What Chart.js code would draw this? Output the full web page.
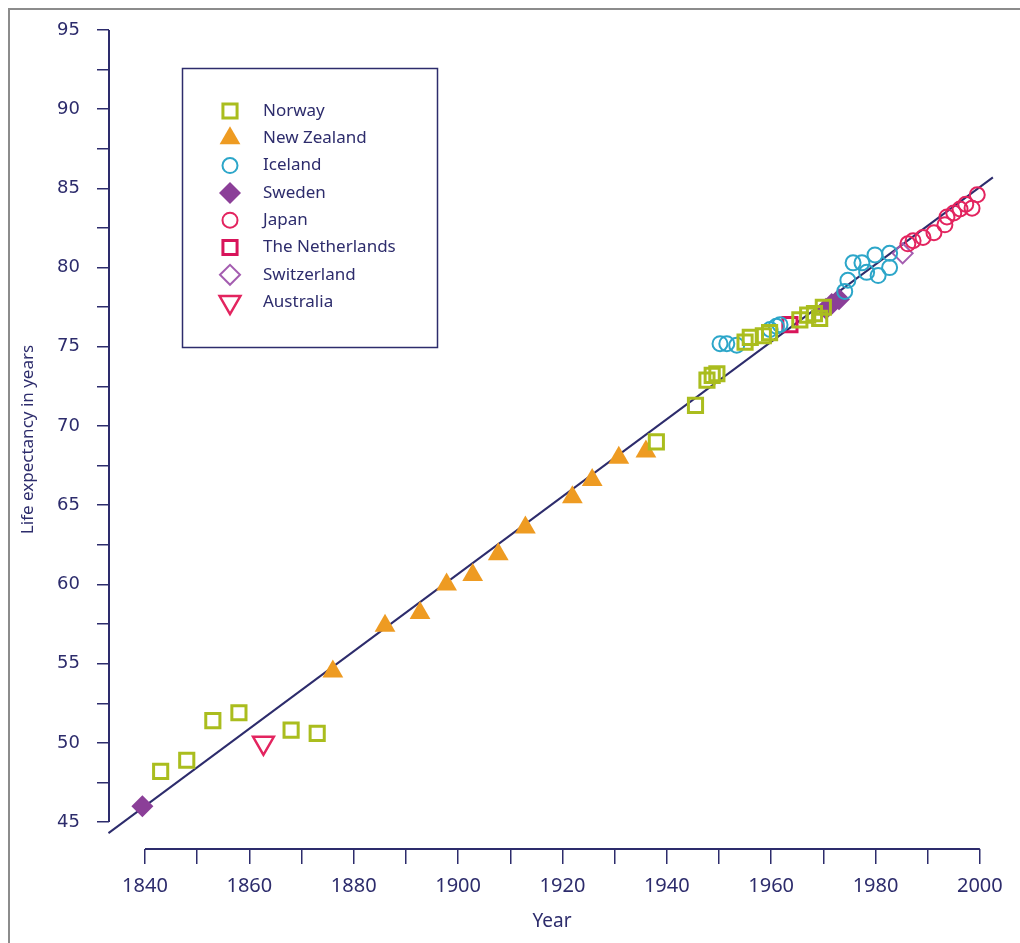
<!DOCTYPE html>
<html>
<head>
<meta charset="utf-8">
<script src="https://cdn.jsdelivr.net/npm/chart.js@4.4.1/dist/chart.umd.min.js"></script>
<style>
  html, body { margin: 0; padding: 0; background: #fff; }
  #frame { position: absolute; left: 8px; top: 8px; width: 1012px; height: 935px;
           border-top: 2px solid #8c8c8c; border-left: 2px solid #8c8c8c; }
  #chartLife { position: absolute; left: 0; top: 0; }
</style>
</head>
<body>
<div id="frame"></div>
<canvas id="chartLife" width="1020" height="943"></canvas>
<script>
// [year, life expectancy]
const norway = [
  [1843, 48.2], [1848, 48.9], [1853, 51.4], [1858, 51.9], [1868, 50.8], [1873, 50.6],
  [1938, 69.0], [1945.5, 71.3], [1947.7, 72.9], [1948.7, 73.2], [1949.6, 73.3],
  [1955, 75.3], [1956, 75.6], [1958.5, 75.7], [1959.7, 75.9],
  [1965.5, 76.7], [1967, 77.0], [1968.3, 77.1], [1969.3, 76.8], [1970, 77.5]
];
const newZealand = [
  [1876, 54.5], [1886, 57.4], [1892.7, 58.2], [1897.8, 60.0], [1902.8, 60.6], [1907.7, 61.9],
  [1912.9, 63.6], [1921.9, 65.5], [1925.7, 66.6], [1930.8, 68.0], [1936, 68.4]
];
const iceland = [
  [1950.2, 75.2], [1951.5, 75.2], [1953.4, 75.1], [1959.8, 76.1], [1961, 76.3], [1961.7, 76.4],
  [1974.1, 78.5], [1974.7, 79.2], [1975.7, 80.3], [1977.4, 80.3], [1978.3, 79.7],
  [1979.9, 80.8], [1980.5, 79.5], [1982.7, 80.0], [1982.7, 80.9]
];
const sweden = [[1839.5, 46.0], [1970.5, 77.4], [1971.6, 77.7], [1973, 78.0]];
const japan = [
  [1986.2, 81.5], [1987.2, 81.7], [1989.1, 81.9], [1991.2, 82.2], [1993.3, 82.7], [1993.7, 83.2],
  [1995, 83.45], [1996.2, 83.7], [1997.3, 84.0], [1998.5, 83.75], [1999.5, 84.6]
];
const netherlands = [[1963.6, 76.4]];
const switzerland = [[1985.2, 80.9]];
const australia = [[1862.7, 50.0]];
const trendLine = [[1833, 44.3], [2002.5, 85.7]];

const xTickValues = [1840, 1850, 1860, 1870, 1880, 1890, 1900, 1910, 1920, 1930, 1940, 1950, 1960, 1970, 1980, 1990, 2000];
const yTickValues = [45, 47.5, 50, 52.5, 55, 57.5, 60, 62.5, 65, 67.5, 70, 72.5, 75, 77.5, 80, 82.5, 85, 87.5, 90, 92.5, 95];

const NAVY = '#2d2c6c';
const OPEN = 'rgba(255,255,255,0)';

const countries = [
  { name: 'Norway', data: norway, style: 'rect', r: 10, fill: OPEN, line: '#aabd1e', bw: 3 },
  { name: 'New Zealand', data: newZealand, style: 'triangle', r: 12, fill: '#ee9b22', line: '#ee9b22', bw: 0 },
  { name: 'Iceland', data: iceland, style: 'circle', r: 7.5, fill: OPEN, line: '#2ca6c9', bw: 2 },
  { name: 'Sweden', data: sweden, style: 'rectRot', r: 11, fill: '#8b3f98', line: '#8b3f98', bw: 0 },
  { name: 'Japan', data: japan, style: 'circle', r: 7.5, fill: OPEN, line: '#e3245f', bw: 2 },
  { name: 'The Netherlands', data: netherlands, style: 'rect', r: 10, fill: OPEN, line: '#d8145a', bw: 3 },
  { name: 'Switzerland', data: switzerland, style: 'rectRot', r: 10, fill: OPEN, line: '#a45db0', bw: 2 },
  { name: 'Australia', data: australia, style: 'triangle', r: 12, rot: 180, fill: OPEN, line: '#e3245f', bw: 2.5 }
];

const toXY = arr => arr.map(p => ({ x: p[0], y: p[1] }));

const datasets = countries.map(c => ({
  label: c.name,
  data: toXY(c.data),
  pointStyle: c.style,
  pointRadius: c.r,
  pointRotation: c.rot || 0,
  pointBackgroundColor: c.fill,
  pointBorderColor: c.line,
  pointBorderWidth: c.bw,
  clip: false,
  order: 0
}));
datasets.push({
  label: 'trend',
  data: toXY(trendLine),
  showLine: true,
  borderColor: NAVY,
  borderWidth: 2,
  pointRadius: 0,
  clip: false,
  order: 10
});

// axis lines only between the first and last tick
const axisLines = {
  id: 'axisLines',
  beforeDatasetsDraw(chart) {
    const { ctx, scales: { x, y } } = chart;
    ctx.save();
    ctx.strokeStyle = NAVY;
    ctx.lineWidth = 2;
    ctx.beginPath();
    ctx.moveTo(x.getPixelForValue(xTickValues[0]), x.top);
    ctx.lineTo(x.getPixelForValue(xTickValues[xTickValues.length - 1]), x.top);
    ctx.moveTo(y.right, y.getPixelForValue(yTickValues[0]));
    ctx.lineTo(y.right, y.getPixelForValue(yTickValues[yTickValues.length - 1]));
    ctx.stroke();
    ctx.restore();
  }
};

// boxed legend in the upper left
const boxLegend = {
  id: 'boxLegend',
  afterDraw(chart) {
    const ctx = chart.ctx;
    ctx.save();
    ctx.strokeStyle = NAVY;
    ctx.lineWidth = 1.5;
    ctx.strokeRect(182.5, 68.5, 255, 279);
    countries.forEach((c, i) => {
      const cy = 111 + i * 27.3;
      ctx.fillStyle = c.fill;
      ctx.strokeStyle = c.line;
      ctx.lineWidth = c.bw;
      Chart.helpers.drawPoint(ctx, { pointStyle: c.style, radius: c.r, rotation: c.rot || 0, borderWidth: c.bw }, 230, cy);
      ctx.fillStyle = NAVY;
      ctx.font = '17px "Noto Sans"';
      ctx.textBaseline = 'middle';
      ctx.textAlign = 'left';
      ctx.fillText(c.name, 263, cy);
    });
    ctx.restore();
  }
};

new Chart(document.getElementById('chartLife'), {
  type: 'scatter',
  data: { datasets: datasets },
  plugins: [axisLines, boxLegend],
  options: {
    responsive: false,
    animation: false,
    events: [],
    layout: { padding: { top: 30, right: 25, left: 0, bottom: 0 } },
    scales: {
      x: {
        type: 'linear',
        min: 1833.1,
        max: 2002.9,
        afterFit: s => { s.height = 94; },
        afterBuildTicks: s => { s.ticks = xTickValues.map(v => ({ value: v })); },
        ticks: {
          autoSkip: false,
          maxRotation: 0,
          padding: 10,
          color: NAVY,
          font: { family: 'Noto Sans', size: 20 },
          callback: v => (v % 20 === 0 ? String(v) : '')
        },
        grid: { drawOnChartArea: false, tickLength: 15, color: NAVY, lineWidth: 1.5 },
        border: { display: false },
        title: {
          display: true,
          text: 'Year',
          color: NAVY,
          font: { family: 'Noto Sans', size: 19 },
          padding: { top: 0, bottom: 10 }
        }
      },
      y: {
        min: 43.3,
        max: 95,
        afterFit: s => { s.width = 109; },
        afterBuildTicks: s => { s.ticks = yTickValues.map(v => ({ value: v })); },
        ticks: {
          autoSkip: false,
          padding: 17,
          color: NAVY,
          font: { family: 'DejaVu Sans', size: 18 },
          callback: v => (v % 5 === 0 ? String(v) : '')
        },
        grid: { drawOnChartArea: false, tickLength: 12, color: NAVY, lineWidth: 1.5 },
        border: { display: false },
        title: {
          display: true,
          text: 'Life expectancy in years',
          color: NAVY,
          font: { family: 'Noto Sans', size: 17 },
          padding: { top: 18, bottom: 0 }
        }
      }
    },
    plugins: {
      legend: { display: false },
      tooltip: { enabled: false }
    }
  }
});
</script>
</body>
</html>
